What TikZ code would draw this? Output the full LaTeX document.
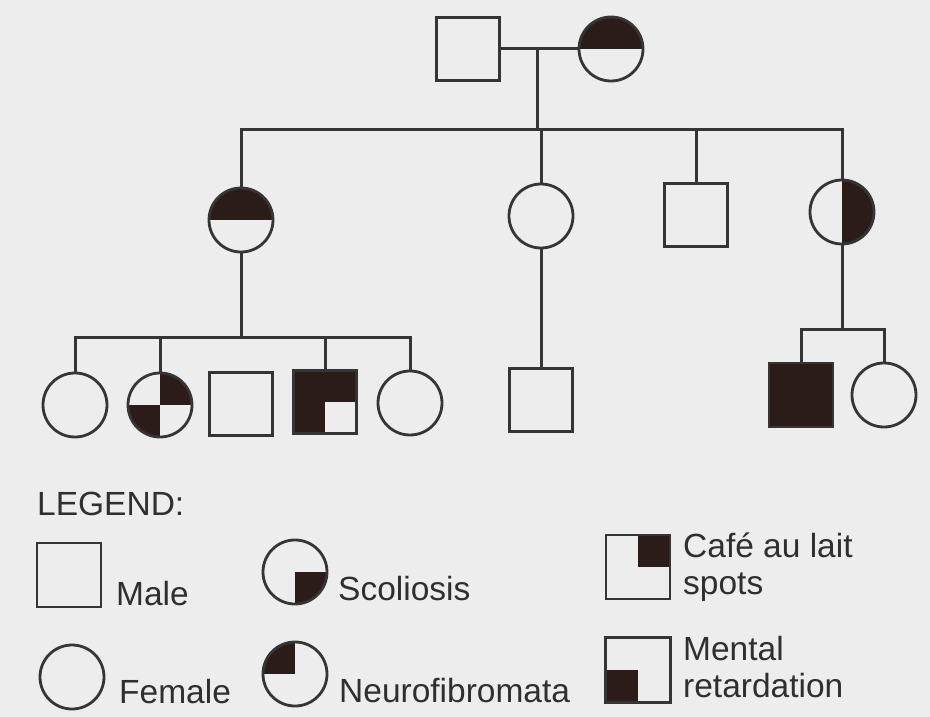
\documentclass[tikz,border=0pt]{standalone}
\usepackage{fontspec}
\setmainfont{Liberation Sans}
\definecolor{lc}{HTML}{353535}
\definecolor{pf}{HTML}{2B1C1A}
\definecolor{bg}{HTML}{EDEDED}
\definecolor{tc}{HTML}{2F2F2F}
\begin{document}
\begin{tikzpicture}[x=1pt,y=-1pt,
  ln/.style={draw=lc, line width=3pt},
  male/.style={draw=lc, line width=2.8pt, rectangle, minimum size=63pt, inner sep=0pt, fill=bg},
  fem/.style={draw=lc, line width=2.8pt, circle, minimum size=64pt, inner sep=0pt, fill=bg},
  tophalf/.style={path picture={\fill[pf] (path picture bounding box.west) rectangle (path picture bounding box.north east);}},
  righthalf/.style={path picture={\fill[pf] (path picture bounding box.south) rectangle (path picture bounding box.north east);}},
  qNE/.style={path picture={\fill[pf] (path picture bounding box.center) rectangle (path picture bounding box.north east);}},
  qSW/.style={path picture={\fill[pf] (path picture bounding box.center) rectangle (path picture bounding box.south west);}},
  qSE/.style={path picture={\fill[pf] (path picture bounding box.center) rectangle (path picture bounding box.south east);}},
  qNW/.style={path picture={\fill[pf] (path picture bounding box.center) rectangle (path picture bounding box.north west);}},
  qNESW/.style={path picture={\fill[pf] (path picture bounding box.center) rectangle (path picture bounding box.north east);
     \fill[pf] (path picture bounding box.center) rectangle (path picture bounding box.south west);}},
  qthree/.style={path picture={\fill[pf] (path picture bounding box.west) rectangle (path picture bounding box.north east);
     \fill[pf] (path picture bounding box.center) rectangle (path picture bounding box.south west);}},
  full/.style={fill=pf},
  lbl/.style={anchor=base west, inner sep=0pt, text=tc, font=\fontsize{33.5}{36}\selectfont}
]
\useasboundingbox[fill=bg] (0,0) rectangle (930,717);

% generation I
\node[male] (f1) at (468,49) {};
\node[fem, tophalf] (m1) at (611,49) {};
\coordinate (j1) at (537,49);
\coordinate (bar1) at (537,129);
\draw[ln] (f1.east) -- (m1.west);
\draw[ln] (j1) -- (bar1);

% generation II
\node[fem, tophalf] (a2) at (241,220) {};
\node[fem] (b2) at (541,216) {};
\node[male] (c2) at (696,215) {};
\node[fem, righthalf] (d2) at (842,212) {};
\draw[ln] (a2.north) |- (bar1) -| (d2.north);
\draw[ln] (b2.north) -- (b2.north |- bar1);
\draw[ln] (c2.north) -- (c2.north |- bar1);

% generation III (children of a2)
\coordinate (bar2) at (241,337);
\node[fem] (g1) at (75,405) {};
\node[fem, qNESW] (g2) at (160,405) {};
\node[male] (g3) at (241,404) {};
\node[male, qthree] (g4) at (325,402) {};
\node[fem] (g5) at (410,403) {};
\draw[ln] (a2.south) -- (bar2);
\draw[ln] (g1.north) |- (bar2) -| (g5.north);
\draw[ln] (g2.north) -- (g2.north |- bar2);
\draw[ln] (g4.north) -- (g4.north |- bar2);

% child of b2
\node[male] (h1) at (541,400) {};
\draw[ln] (b2.south) -- (h1.north);

% children of d2
\coordinate (bar3) at (842,329);
\node[male, full, minimum size=64pt] (k1) at (801,395) {};
\node[fem] (k2) at (884,395) {};
\draw[ln] (d2.south) -- (bar3);
\draw[ln] (k1.north) |- (bar3) -| (k2.north);

% legend
\node[lbl] (lg) at (37,515) {LEGEND:};
\node[male, minimum size=64pt] (lm) at (69,575) {};
\node[lbl] (lmt) at (116,605) {Male};
\node[fem] (lf) at (72,677) {};
\node[lbl] (lft) at (119,703) {Female};
\node[fem, qSE] (ls) at (295,572) {};
\node[lbl] (lst) at (338,600) {Scoliosis};
\node[fem, qNW] (lnf) at (295,674) {};
\node[lbl] (lnt) at (339,702) {Neurofibromata};
\node[male, qNE, minimum size=64pt] (lc) at (638,567) {};
\node[lbl] (lct1) at (683,557) {Café au lait};
\node[lbl] (lct2) at (683,594) {spots};
\node[male, qSW, minimum size=65pt] (lr) at (638,670) {};
\node[lbl] (lrt1) at (683,660) {Mental};
\node[lbl] (lrt2) at (683,697) {retardation};
\end{tikzpicture}
\end{document}
